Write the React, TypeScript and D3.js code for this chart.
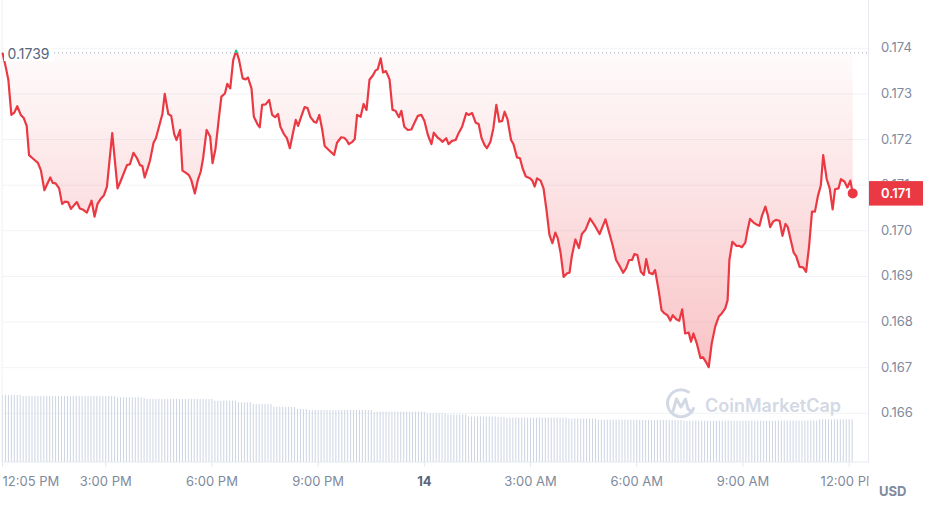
import React from 'react';
import * as d3 from 'd3';

// minutes since 12:00 PM (day 13)
const times = [
  5, 11, 15, 20, 25, 30, 36, 41, 46, 50,
  56, 65, 70, 76, 81, 86, 90, 95, 101, 106,
  111, 116, 121, 131, 136, 142, 148, 156, 161, 166,
  172, 177, 182, 191, 200, 205, 216, 221, 227, 233,
  238, 242, 246, 251, 255, 261, 265, 270, 276, 280,
  286, 291, 296, 300, 306, 310, 316, 321, 325, 331,
  336, 341, 345, 351, 357, 361, 366, 372, 376, 382,
  386, 391, 396, 401, 406, 412, 417, 421, 427, 431,
  437, 441, 445, 451, 457, 462, 467, 472, 476, 482,
  487, 492, 496, 502, 506, 511, 517, 522, 527, 533,
  537, 542, 547, 551, 558, 567, 572, 579, 584, 588,
  592, 598, 602, 606, 612, 617, 622, 627, 633, 637,
  641, 646, 650, 655, 661, 666, 671, 677, 681, 686,
  692, 698, 703, 709, 715, 720, 726, 732, 736, 742,
  746, 751, 757, 761, 767, 773, 778, 784, 791, 795,
  801, 807, 812, 817, 822, 826, 832, 837, 842, 847,
  852, 856, 861, 867, 871, 877, 882, 887, 892, 899,
  903, 907, 911, 917, 922, 927, 932, 937, 942, 946,
  951, 956, 962, 966, 970, 976, 982, 987, 993, 1001,
  1010, 1017, 1022, 1027, 1032, 1039, 1045, 1050, 1057, 1062,
  1067, 1072, 1076, 1081, 1087, 1092, 1096, 1101, 1107, 1111,
  1117, 1122, 1127, 1132, 1137, 1141, 1147, 1152, 1157, 1162,
  1168, 1172, 1176, 1182, 1188, 1192, 1198, 1202, 1207, 1213,
  1219, 1224, 1230, 1234, 1237, 1242, 1249, 1254, 1258, 1264,
  1268, 1272, 1278, 1284, 1288, 1292, 1298, 1302, 1306, 1311,
  1316, 1322, 1327, 1332, 1336, 1341, 1346, 1350, 1356, 1362,
  1367, 1372, 1377, 1382, 1387, 1392, 1396, 1402, 1407, 1412,
  1416, 1422, 1426, 1432, 1437, 1442, 1446,
];

const prices = [
  0.17390, 0.17356, 0.17330, 0.17254, 0.17259, 0.17273, 0.17254, 0.17247, 0.17230, 0.17166,
  0.17159, 0.17149, 0.17133, 0.17089, 0.17103, 0.17117, 0.17105, 0.17104, 0.17093, 0.17059,
  0.17064, 0.17063, 0.17048, 0.17063, 0.17049, 0.17046, 0.17040, 0.17066, 0.17031, 0.17059,
  0.17071, 0.17078, 0.17097, 0.17214, 0.17093, 0.17108, 0.17144, 0.17146, 0.17171, 0.17159,
  0.17144, 0.17142, 0.17117, 0.17137, 0.17154, 0.17193, 0.17203, 0.17227, 0.17256, 0.17300,
  0.17256, 0.17252, 0.17212, 0.17199, 0.17221, 0.17132, 0.17127, 0.17122, 0.17111, 0.17082,
  0.17111, 0.17130, 0.17159, 0.17221, 0.17206, 0.17148, 0.17180, 0.17250, 0.17294, 0.17301,
  0.17322, 0.17312, 0.17374, 0.17395, 0.17374, 0.17334, 0.17332, 0.17336, 0.17312, 0.17250,
  0.17234, 0.17227, 0.17276, 0.17277, 0.17287, 0.17254, 0.17249, 0.17256, 0.17228, 0.17212,
  0.17203, 0.17181, 0.17206, 0.17243, 0.17230, 0.17249, 0.17271, 0.17269, 0.17249, 0.17239,
  0.17237, 0.17254, 0.17221, 0.17186, 0.17177, 0.17166, 0.17193, 0.17205, 0.17204, 0.17199,
  0.17190, 0.17195, 0.17201, 0.17254, 0.17250, 0.17278, 0.17265, 0.17331, 0.17341, 0.17351,
  0.17354, 0.17378, 0.17347, 0.17350, 0.17332, 0.17265, 0.17263, 0.17249, 0.17263, 0.17228,
  0.17221, 0.17222, 0.17236, 0.17252, 0.17254, 0.17241, 0.17210, 0.17190, 0.17215, 0.17205,
  0.17201, 0.17195, 0.17203, 0.17190, 0.17197, 0.17199, 0.17214, 0.17228, 0.17258, 0.17254,
  0.17258, 0.17237, 0.17234, 0.17203, 0.17188, 0.17181, 0.17195, 0.17225, 0.17276, 0.17239,
  0.17241, 0.17261, 0.17244, 0.17199, 0.17190, 0.17161, 0.17159, 0.17135, 0.17119, 0.17115,
  0.17110, 0.17097, 0.17115, 0.17110, 0.17093, 0.17046, 0.16991, 0.16973, 0.16996, 0.16984,
  0.16951, 0.16899, 0.16907, 0.16908, 0.16945, 0.16981, 0.16962, 0.16993, 0.17002, 0.17027,
  0.17009, 0.16993, 0.17009, 0.17025, 0.17002, 0.16969, 0.16936, 0.16925, 0.16908, 0.16918,
  0.16936, 0.16936, 0.16949, 0.16947, 0.16910, 0.16903, 0.16938, 0.16908, 0.16905, 0.16914,
  0.16870, 0.16826, 0.16819, 0.16815, 0.16803, 0.16815, 0.16806, 0.16803, 0.16828, 0.16775,
  0.16777, 0.16757, 0.16775, 0.16752, 0.16721, 0.16723, 0.16711, 0.16701, 0.16753, 0.16790,
  0.16812, 0.16819, 0.16830, 0.16848, 0.16936, 0.16976, 0.16967, 0.16967, 0.16964, 0.16974,
  0.17003, 0.17026, 0.17018, 0.17013, 0.17011, 0.17032, 0.17053, 0.17035, 0.17008, 0.17020,
  0.17024, 0.17022, 0.16989, 0.17015, 0.17008, 0.16980, 0.16952, 0.16945, 0.16921, 0.16920,
  0.16910, 0.16965, 0.17042, 0.17042, 0.17076, 0.17100, 0.17166, 0.17113, 0.17093, 0.17047,
  0.17091, 0.17093, 0.17113, 0.17108, 0.17095, 0.17110, 0.17082,
];

// 5-minute volume bars (relative units)
const volumes = [
  67, 67, 67, 67, 67, 67, 67, 66, 66, 66, 66, 66, 66, 66, 66, 66, 66, 66, 66, 66, 66, 66, 66, 66,
  66, 66, 66, 66, 66, 66, 66, 66, 66, 66, 66, 66, 66, 66, 66, 64.7, 64.7, 64.7, 64.7, 64.7, 64.7, 64.7, 64.7, 64.7,
  64, 63, 63, 63, 63, 63, 63, 63, 63, 63, 63, 63, 63, 63, 63, 63, 63, 63, 63, 63, 63, 63, 63, 63,
  61.3, 61.3, 61.3, 61.3, 61.3, 61.3, 61.3, 61.3, 59.7, 59.7, 59.7, 59.7, 59.7, 58, 58, 58, 58, 58, 58, 58, 55.3, 55.3, 55.3, 55.3,
  55, 55, 55, 55, 53, 53, 53, 53, 52, 52, 52, 52, 52, 52, 52, 52, 52, 52, 52, 52, 52, 52, 52, 52,
  52, 52, 52, 52, 52, 52, 50.3, 50.3, 50.3, 50.3, 50.3, 50.3, 50.3, 50.3, 50.3, 50.3, 50.3, 50.3, 50.3, 50.3, 50.3, 50.3, 50.3, 50.3,
  48.7, 48.7, 48.7, 48.7, 48.7, 48.7, 48.7, 47.5, 47.5, 47.5, 47.5, 47.5, 47.5, 47.5, 45.5, 45.5, 45.5, 45.5, 45.5, 45.5, 45.5, 45.5, 45.5, 45.5,
  45, 45, 45, 44.3, 44.3, 44.3, 44.3, 44.3, 44.3, 44.3, 44.3, 44.3, 44.3, 44.3, 44.3, 44.3, 44.3, 44.3, 44.3, 44.3, 44.3, 44.3, 44.3, 44.3,
  43.5, 43.5, 43.5, 43.5, 43.5, 43.5, 43.5, 43.5, 43.5, 43.5, 42.3, 42.3, 42.3, 42.3, 42.3, 42.3, 42.3, 42.3, 42.3, 42.3, 42.3, 42.3, 42.3, 42.3,
  42, 42, 42, 42, 42, 42, 42, 42, 42, 42, 42, 42, 42, 42, 42, 41.3, 41.3, 41.3, 41.3, 41.3, 41.3, 41.3, 41.3, 41.3,
  41.3, 41.3, 41.3, 41.3, 41.3, 41.3, 41.3, 41.3, 41.3, 41.3, 41.3, 41.3, 41.3, 41.3, 41.3, 41.3, 41.3, 41.3, 41.3, 41.3, 41.3, 41.3, 41.3, 41.3,
  41.5, 41.5, 41.5, 41.5, 41.5, 41.5, 41.5, 41.5, 41.5, 41.5, 41.5, 41.5, 41.5, 42.7, 42.7, 42.7, 42.7, 42.7, 42.7, 42.7, 42.7, 42.7, 42.7, 42.7, 42.7,
];

const yTicks = [0.166, 0.167, 0.168, 0.169, 0.17, 0.171, 0.172, 0.173, 0.174];
const xTickMinutes = [5, 180, 360, 540, 720, 900, 1080, 1260, 1440];
const xTickLabels = ['12:05 PM', '3:00 PM', '6:00 PM', '9:00 PM', '14', '3:00 AM', '6:00 AM', '9:00 AM', '12:00 PM'];
const openPrice = 0.1739;
const openLabel = '0.1739';
const lastLabel = '0.171';
const currency = 'USD';
const watermark = 'CoinMarketCap';

const RED = '#ea3943';
const GREEN = '#16c784';
const FONT = 'Inter, "Noto Sans", sans-serif';

export default function App() {
  const W = 938;
  const H = 518;
  const left = 2;
  const right = 868.5;
  const bottom = 462;

  const x = d3.scaleLinear().domain([5, 1446]).range([2.5, 852.7]);
  const y = d3.scaleLinear().domain([0.166, 0.174]).range([413.3, 48.3]);
  const yv = d3.scaleLinear().domain([0, 70]).range([bottom, bottom - 70]);

  const data = times.map((t, i) => ({ t, p: prices[i] }));
  const line = d3.line<any>().x((d) => x(d.t)).y((d) => y(d.p));
  const base = y(openPrice);
  const area = d3.area<any>().x((d) => x(d.t)).y0(base).y1((d) => y(d.p));
  const minP = d3.min(prices) as number;
  const last = data[data.length - 1];

  return (
    <svg width={W} height={H} style={{ position: 'absolute', left: 0, top: 0, background: '#fff' }} fontFamily={FONT}>
      <defs>
        <linearGradient id="redFill" gradientUnits="userSpaceOnUse" x1="0" y1={base} x2="0" y2={y(minP)}>
          <stop offset="0" stopColor={RED} stopOpacity={0.02} />
          <stop offset="1" stopColor={RED} stopOpacity={0.3} />
        </linearGradient>
        <clipPath id="below">
          <rect x={0} y={base} width={W} height={H} />
        </clipPath>
        <clipPath id="above">
          <rect x={0} y={0} width={W} height={base} />
        </clipPath>
        <clipPath id="plotClip">
          <rect x={0} y={0} width={right} height={H} />
        </clipPath>
        <clipPath id="tagTop">
          <rect x={860} y={0} width={78} height={181} />
        </clipPath>
      </defs>

      {/* gridlines */}
      {yTicks.map((t) => (
        <line key={t} x1={left} x2={right} y1={y(t)} y2={y(t)} stroke="#f1f3f6" strokeWidth={1} />
      ))}

      {/* volume bars */}
      {volumes.map((v, k) => (
        <rect key={k} x={x(5 + 5 * k) - 0.5} y={yv(v)} width={1} height={bottom - yv(v)} fill="#cdd4e2" />
      ))}

      {/* axes frame */}
      <line x1={left} x2={left} y1={0} y2={bottom} stroke="#eef0f4" />
      <line x1={right} x2={right} y1={0} y2={bottom} stroke="#e6e9ef" />
      <line x1={left} x2={right} y1={bottom} y2={bottom} stroke="#e6e9ef" />

      {/* area fill */}
      <path d={area(data) || ''} fill="url(#redFill)" clipPath="url(#below)" />

      {/* baseline dotted */}
      <line x1={left} x2={right} y1={base} y2={base} stroke="#9aa3b2" strokeWidth={1} strokeDasharray="1 3" />

      {/* price line */}
      <path d={line(data) || ''} fill="none" stroke={RED} strokeWidth={2.2} strokeLinejoin="round" clipPath="url(#below)" />
      <path d={line(data) || ''} fill="none" stroke={GREEN} strokeWidth={2.2} strokeLinejoin="round" clipPath="url(#above)" />
      <circle cx={x(last.t)} cy={y(last.p)} r={5} fill={RED} />

      {/* open label */}
      <rect x={4} y={44} width={50} height={17} fill="#fff" />
      <text x={7.5} y={58.5} fontSize={14} fill="#58667e">{openLabel}</text>

      {/* y axis labels */}
      {yTicks.map((t) => (
        <text
          key={t}
          x={881}
          y={y(t) + 4}
          fontSize={13}
          fill="#808a9d"
          clipPath={t === 0.171 ? 'url(#tagTop)' : undefined}
        >
          {d3.format('.3f')(t)}
        </text>
      ))}

      {/* current price tag */}
      <rect x={869} y={y(last.p) - 12.3} width={54} height={24.5} fill={RED} />
      <text x={881} y={y(last.p) + 4.8} fontSize={13} fontWeight={600} fill="#fff">{lastLabel}</text>

      {/* x axis */}
      <g clipPath="url(#plotClip)">
        {xTickMinutes.map((m, i) => (
          <g key={m}>
            <line x1={x(m)} x2={x(m)} y1={bottom} y2={bottom + 5} stroke="#e6e9ef" />
            <text
              x={x(m)}
              y={486}
              fontSize={13}
              fill={i === 4 ? '#58667e' : '#808a9d'}
              fontWeight={i === 4 ? 700 : 400}
              textAnchor={i === 0 ? 'start' : 'middle'}
            >
              {xTickLabels[i]}
            </text>
          </g>
        ))}
      </g>
      <text x={879} y={496} fontSize={13} fontWeight={700} fill="#808a9d">{currency}</text>

      {/* watermark */}
      <g>
        <path d="M 693.5 408.5 A 13.5 13.5 0 1 1 688.5 392" fill="none" stroke="#d3d9e4" strokeWidth={3} strokeLinecap="round" />
        <path d="M 673 411 L 676.5 399 L 681 407 L 685.5 399 L 688 409 L 692 412" fill="none" stroke="#d3d9e4" strokeWidth={3} strokeLinejoin="round" strokeLinecap="round" />
        <text x={705} y={411.5} fontSize={18} fontWeight={600} fill="#d3d9e4">{watermark}</text>
      </g>
    </svg>
  );
}
